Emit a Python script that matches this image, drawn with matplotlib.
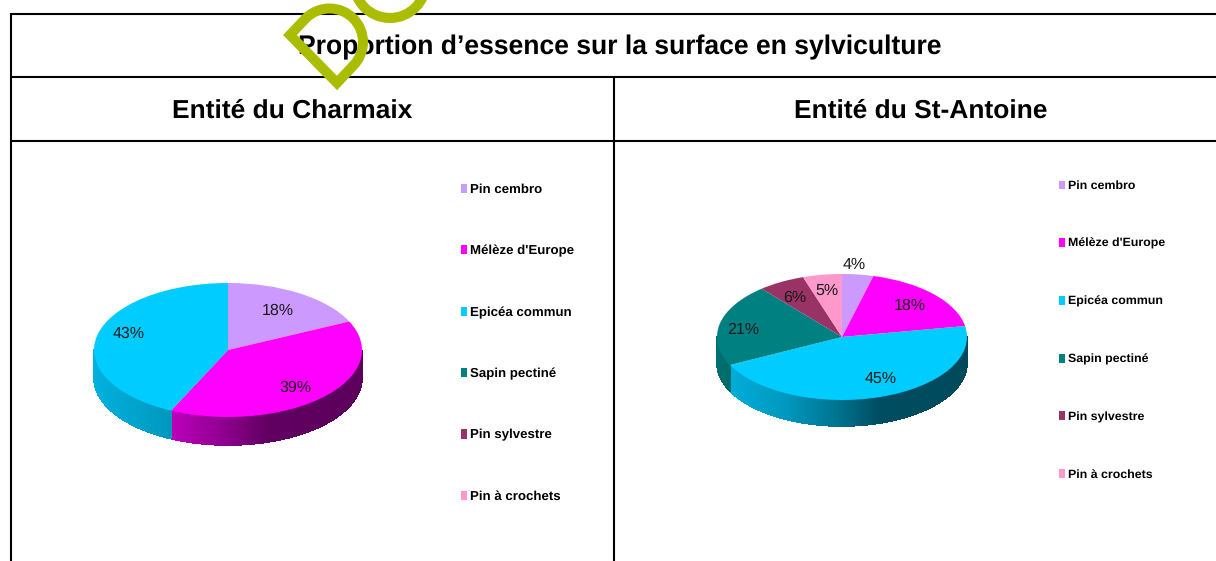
import matplotlib.pyplot as plt
import numpy as np
from matplotlib.path import Path
from matplotlib.patches import PathPatch, Circle

W, H = 1216, 561

title = "Proportion d’essence sur la surface en sylviculture"
entites = ["Entité du Charmaix", "Entité du St-Antoine"]
essences = ["Pin cembro", "Mélèze d'Europe", "Epicéa commun", "Sapin pectiné", "Pin sylvestre", "Pin à crochets"]
couleurs = ["#CC99FF", "#FF00FF", "#00CCFF", "#008080", "#993366", "#FF99CC"]
charmaix = [18, 39, 43, 0, 0, 0]
st_antoine = [4, 18, 45, 21, 6, 5]

# shading of the pie wall from left to right
wall_x = [-1, -0.45, 0, 0.3, 1]
wall_f = [0.87, 0.75, 0.55, 0.38, 0.36]

plt.rcParams['font.family'] = ['Liberation Sans', 'DejaVu Sans']
plt.rcParams['text.hinting'] = 'none'
fig = plt.figure(figsize=(W / 100, H / 100), dpi=100)

ax = fig.add_axes([0, 0, 1, 1])
ax.set_xlim(0, W)
ax.set_ylim(H, 0)
ax.axis('off')

# table
ax.plot([10.5, W], [13.5, 13.5], color='k', lw=1.5, solid_capstyle='butt')
ax.plot([10.5, W], [77, 77], color='k', lw=1.5, solid_capstyle='butt')
ax.plot([10.5, W], [141, 141], color='k', lw=1.5, solid_capstyle='butt')
ax.plot([10.5, 10.5], [13, H], color='k', lw=1.5, solid_capstyle='butt')
ax.plot([614, 614], [77, H], color='k', lw=1.5, solid_capstyle='butt')

ax.text(620, 47, title, ha='center', va='center', fontsize=19.1, fontweight='bold')
ax.text(292, 111.5, entites[0], ha='center', va='center', fontsize=19, fontweight='bold')
ax.text(921, 111.5, entites[1], ha='center', va='center', fontsize=19, fontweight='bold')

# logo letters on top of the table
arc = Path.arc(-135, 45)
arc_pts = arc.vertices * 33.5 + [329.5, 42]
d_verts = [(290, 35)] + [tuple(p) for p in arc_pts] + [(337, 83), (290, 35)]
d_codes = [Path.MOVETO, Path.LINETO] + list(arc.codes[1:]) + [Path.LINETO, Path.CLOSEPOLY]
ax.add_patch(PathPatch(Path(d_verts, d_codes), fc='none', ec='#AABD00', lw=7.2, joinstyle='miter', zorder=5))
ax.add_patch(Circle((390, -18), 36, fc='none', ec='#AABD00', lw=7.2, zorder=5))


def draw_pie(values, cx, cy, rx, ry, depth):
    xm, ym = 1.3, 1.4
    ybot = ym + depth / ry
    pie_ax = fig.add_axes([(cx - xm * rx) / W, (H - cy - ybot * ry) / H,
                           2 * xm * rx / W, (ym + ybot) * ry / H])
    wedges, _, pcts = pie_ax.pie(values, colors=couleurs, startangle=90, counterclock=False,
                                 autopct=lambda p: f'{p:.0f}%' if p > 0 else '',
                                 pctdistance=0.75, wedgeprops={'linewidth': 0},
                                 textprops={'fontsize': 11.5, 'color': '#1a1a1a'})
    pie_ax.set_aspect('auto')
    pie_ax.set_xlim(-xm, xm)
    pie_ax.set_ylim(-ybot, ym)

    # wall below the visible front edge
    d = depth / ry
    for w in wedges:
        a0, a1 = sorted((w.theta1, w.theta2))
        for a in np.arange(a0, a1, 1.0):
            b = min(a + 1.0, a1)
            if np.sin(np.radians((a + b) / 2)) >= 0:
                continue
            xs = np.cos(np.radians([a, b]))
            ys = np.sin(np.radians([a, b]))
            f = np.interp(xs.mean(), wall_x, wall_f)
            r, g, bl, _ = w.get_facecolor()
            pie_ax.fill([xs[0], xs[1], xs[1], xs[0]], [ys[0], ys[1], ys[1] - d, ys[0] - d],
                        color=(r * f, g * f, bl * f), lw=0.5, antialiased=False, zorder=0.5)
    return pie_ax, wedges, pcts


ax1, wedges1, pcts1 = draw_pie(charmaix, 228, 350, 134, 67, 28)
ax2, wedges2, pcts2 = draw_pie(st_antoine, 842, 337, 125, 63, 26)

# labels nudged to where they sit in the original
pcts1[0].set_position((0.37, 0.59))
pcts1[1].set_position((0.50, -0.57))
pcts1[2].set_position((-0.74, 0.25))
pcts2[0].set_position((0.10, 1.14))
pcts2[1].set_position((0.54, 0.49))
pcts2[2].set_position((0.31, -0.67))
pcts2[3].set_position((-0.79, 0.11))
pcts2[4].set_position((-0.38, 0.63))
pcts2[5].set_position((-0.12, 0.73))

leg_font = {'family': 'Liberation Sans', 'weight': 'bold', 'size': 9.5}
leg_font2 = {'family': 'Liberation Sans', 'weight': 'bold', 'size': 8.95}
fig.legend(wedges1, essences, loc='upper left', bbox_to_anchor=(461 / W, 1 - 183.5 / H),
           frameon=False, prop=leg_font, handlelength=0.45, handletextpad=0.23,
           labelspacing=3.73, borderpad=0, borderaxespad=0)
fig.legend(wedges2, essences, loc='upper left', bbox_to_anchor=(1059 / W, 1 - 180.5 / H),
           frameon=False, prop=leg_font2, handlelength=0.48, handletextpad=0.24,
           labelspacing=3.74, borderpad=0, borderaxespad=0)

plt.savefig('out.png', dpi=100)
